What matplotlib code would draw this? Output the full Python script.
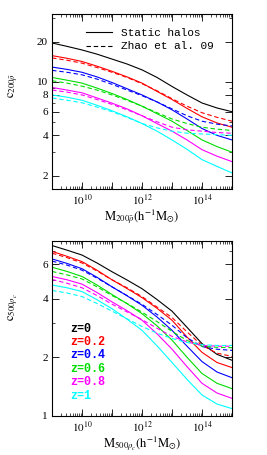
import numpy as np
import matplotlib
matplotlib.use("Agg")
import matplotlib.pyplot as plt
from matplotlib.ticker import FixedLocator, FixedFormatter, LogLocator, NullFormatter

plt.rcParams['font.family'] = ['Liberation Serif', 'DejaVu Serif']
plt.rcParams['mathtext.fontset'] = 'stix'

logM = [9, 9.5, 10, 10.5, 11, 11.5, 12, 12.5, 13, 13.5, 14, 14.5, 15]
zlabels = ['z=0', 'z=0.2', 'z=0.4', 'z=0.6', 'z=0.8', 'z=1']
colors = ['black', 'red', 'blue', '#00dd00', 'magenta', 'cyan']

# top panel: c_200 (static halos, solid) and Zhao et al. 09 (dashed)
c200_static = [
    [19.5, 18.4, 17.3, 16.1, 14.8, 13.6, 12.3, 10.8, 9.25, 8.0, 6.97, 6.4, 6.0],
    [15.7, 15.0, 14.2, 13.1, 12.0, 10.9, 9.8, 8.5, 7.4, 6.35, 5.5, 4.95, 4.6],
    [12.9, 12.4, 11.8, 10.9, 9.9, 8.9, 8.0, 7.1, 6.2, 5.3, 4.5, 4.0, 3.7],
    [10.8, 10.3, 9.8, 9.0, 8.2, 7.4, 6.6, 5.8, 5.1, 4.35, 3.7, 3.3, 3.0],
    [9.1, 8.7, 8.3, 7.6, 6.95, 6.3, 5.6, 4.9, 4.3, 3.7, 3.13, 2.8, 2.55],
    [8.0, 7.7, 7.3, 6.7, 6.1, 5.5, 4.9, 4.3, 3.7, 3.15, 2.64, 2.35, 2.1],
]
c200_zhao = [
    None,
    [15.1, 14.5, 13.8, 12.8, 11.8, 10.8, 9.7, 8.6, 7.5, 6.6, 5.9, 5.45, 5.1],
    [12.2, 11.8, 11.3, 10.5, 9.6, 8.7, 7.9, 7.1, 6.3, 5.6, 5.1, 4.85, 4.7],
    [10.2, 9.8, 9.3, 8.7, 8.0, 7.3, 6.6, 5.9, 5.3, 4.9, 4.6, 4.45, 4.35],
    [8.7, 8.4, 8.0, 7.4, 6.8, 6.2, 5.6, 5.05, 4.6, 4.4, 4.3, 4.2, 4.15],
    [7.6, 7.3, 7.0, 6.5, 6.0, 5.45, 4.9, 4.55, 4.3, 4.15, 4.1, 4.05, 4.0],
]

# bottom panel: c_500
c500_static = [
    [7.5, 7.1, 6.7, 6.1, 5.5, 4.99, 4.5, 3.96, 3.45, 2.85, 2.35, 2.07, 1.93],
    [7.0, 6.6, 6.2, 5.6, 5.0, 4.51, 4.05, 3.57, 3.1, 2.54, 2.12, 1.88, 1.77],
    [6.4, 6.07, 5.7, 5.15, 4.6, 4.14, 3.7, 3.22, 2.75, 2.28, 1.9, 1.68, 1.57],
    [5.8, 5.52, 5.2, 4.7, 4.2, 3.77, 3.35, 2.9, 2.45, 2.0, 1.65, 1.47, 1.38],
    [5.2, 5.0, 4.75, 4.3, 3.85, 3.47, 3.1, 2.64, 2.2, 1.79, 1.47, 1.31, 1.23],
    [4.7, 4.55, 4.35, 3.95, 3.55, 3.14, 2.75, 2.29, 1.88, 1.54, 1.28, 1.15, 1.09],
]
c500_zhao = [
    None,
    [6.85, 6.5, 6.1, 5.55, 5.0, 4.55, 4.1, 3.62, 3.2, 2.7, 2.3, 2.1, 2.02],
    [6.24, 5.95, 5.6, 5.1, 4.6, 4.15, 3.74, 3.32, 2.92, 2.52, 2.27, 2.2, 2.17],
    [5.52, 5.3, 5.05, 4.6, 4.15, 3.78, 3.41, 3.05, 2.72, 2.44, 2.28, 2.25, 2.24],
    [5.02, 4.8, 4.55, 4.15, 3.75, 3.42, 3.12, 2.82, 2.56, 2.4, 2.3, 2.28, 2.28],
    [4.41, 4.28, 4.1, 3.78, 3.45, 3.15, 2.88, 2.66, 2.5, 2.38, 2.32, 2.3, 2.3],
]

M = 10.0**np.array(logM)
fig = plt.figure(figsize=(2.67, 4.55), dpi=100)
ax1 = fig.add_axes([0.195, 0.585, 0.674, 0.384])
ax2 = fig.add_axes([0.195, 0.086, 0.674, 0.384])

for ax, st, zh in [(ax1, c200_static, c200_zhao), (ax2, c500_static, c500_zhao)]:
    for i, c in enumerate(colors):
        ax.plot(M, st[i], '-', color=c, lw=0.8)
        if zh[i] is not None:
            ax.plot(M, zh[i], '--', color=c, lw=0.8, dashes=(4, 2.5))
    ax.set_xscale('log'); ax.set_yscale('log')
    ax.set_xlim(1e9, 1e15)
    ax.xaxis.set_major_locator(FixedLocator(10.0**np.arange(9, 16)))
    ax.xaxis.set_major_formatter(FixedFormatter(
        ['', r'$10^{10}$', '', r'$10^{12}$', '', r'$10^{14}$', '']))
    ax.xaxis.set_minor_locator(LogLocator(subs=np.arange(2, 10), numticks=20))
    ax.xaxis.set_minor_formatter(NullFormatter())
    ax.tick_params(which='both', direction='in', top=True, right=True, labelsize=8, pad=3)
    ax.tick_params(which='major', length=5, width=0.6)
    ax.tick_params(which='minor', length=2.5, width=0.5)
    for s in ax.spines.values():
        s.set_linewidth(0.8)

ax1.set_ylim(1.6, 32)
ax1.yaxis.set_major_locator(FixedLocator([2, 4, 6, 8, 10, 20]))
ax1.yaxis.set_major_formatter(FixedFormatter(['2', '4', '6', '8', '10', '20']))
ax1.yaxis.set_minor_locator(FixedLocator([3, 5, 7, 9, 30]))
ax1.yaxis.set_minor_formatter(NullFormatter())
ax1.set_xlabel(r'$\mathrm{M}_{200\bar{\rho}}(\mathrm{h}^{-1}\mathrm{M}_{\odot})$', fontsize=9)
ax1.set_ylabel(r'$\mathrm{c}_{200\bar{\rho}}$', fontsize=9)
ax1.xaxis.set_label_coords(0.5, -0.105)
ax1.yaxis.set_label_coords(-0.18, 0.59)

ax2.set_ylim(1, 7.9)
ax2.yaxis.set_major_locator(FixedLocator([1, 2, 4, 6]))
ax2.yaxis.set_major_formatter(FixedFormatter(['1', '2', '4', '6']))
ax2.yaxis.set_minor_locator(FixedLocator([3, 5, 7]))
ax2.yaxis.set_minor_formatter(NullFormatter())
ax2.set_xlabel(r'$\mathrm{M}_{500\rho_c}(\mathrm{h}^{-1}\mathrm{M}_{\odot})$', fontsize=9)
ax2.set_ylabel(r'$\mathrm{c}_{500\rho_c}$', fontsize=9)
ax2.xaxis.set_label_coords(0.5, -0.105)
ax2.yaxis.set_label_coords(-0.18, 0.62)

# legend for line styles
ax1.plot([], [], '-', color='black', lw=0.8, label='Static halos')
ax1.plot([], [], '--', color='black', lw=0.8, dashes=(4, 2.5), label='Zhao et al. 09')
ax1.legend(loc='upper left', bbox_to_anchor=(0.19, 0.92), frameon=False,
           prop={'family': 'Liberation Mono', 'size': 8}, borderpad=0,
           handlelength=2.35, handletextpad=0.8, labelspacing=0.3, borderaxespad=0)

for i, (lab, c) in enumerate(zip(zlabels, colors)):
    ax2.text(0.1, 0.50 - i * 0.077, lab, color=c, transform=ax2.transAxes,
             fontsize=8.5, family='Liberation Mono', fontweight='bold', va='center')

fig.savefig("out.png", dpi=100)
